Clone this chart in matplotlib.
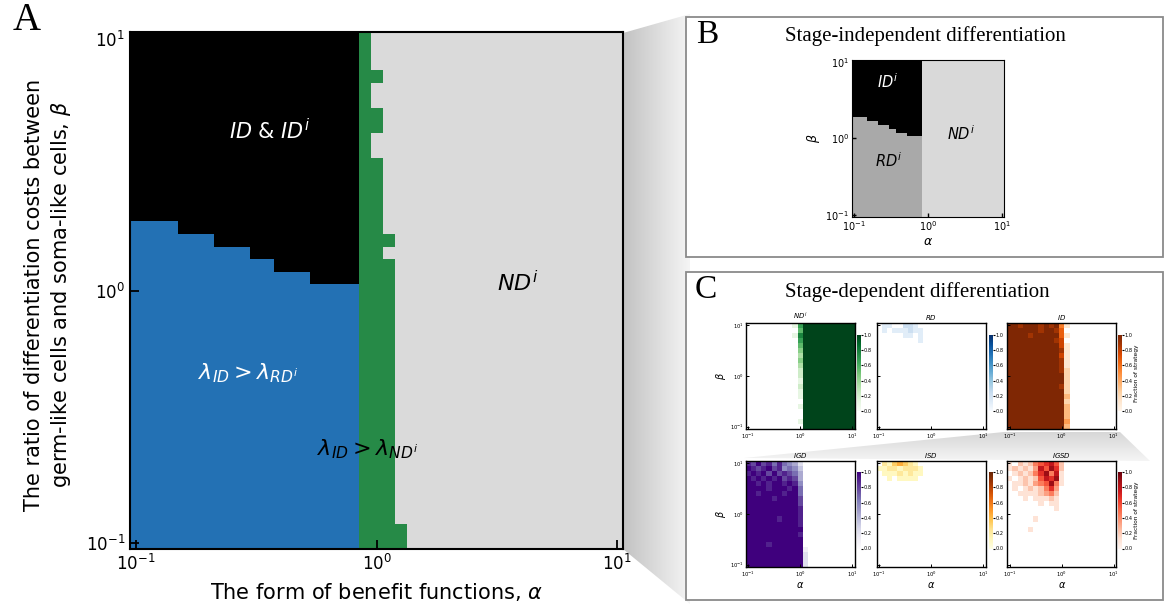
import numpy as np
import matplotlib.pyplot as plt
from matplotlib.colors import ListedColormap
from matplotlib.patches import Polygon, Rectangle

plt.rcParams['mathtext.fontset'] = 'dejavusans'
plt.rcParams['font.family'] = 'DejaVu Sans'

W, H = 1165, 613
SERIF = 'Liberation Serif'

# ---------------- data ----------------
# A/B: 41 x 41 grid, alpha and beta log-spaced 0.1 .. 10 (row 0 = beta 0.1)
n_grid = 41
# number of beta rows (from bottom) where lambda_ID > lambda_RDi, for alpha columns 0..18
rd_rows = [26, 26, 26, 26, 25, 25, 25, 24, 24, 24, 23, 23, 22, 22, 22, 21, 21, 21, 21]
# same boundary in panel B (RD^i / ID^i)
rdi_rows = [26, 26, 26, 26, 25, 25, 25, 24, 24, 24, 23, 23, 22, 22, 22, 21, 21, 21, 21]
# first alpha column of the ND region
nd_col = 19
# width (columns) of the lambda_ID > lambda_NDi band, per beta row from bottom
nd_width = [4, 4, 3, 3, 3, 3, 3, 3, 3, 3, 3, 3, 3, 3, 3, 3, 3, 3, 3, 3, 3, 3, 3,
            2, 3, 2, 2, 2, 2, 2, 2, 1, 1, 2, 2, 1, 1, 2, 1, 1, 1]

# C: fraction of each strategy (digit/9), 21 x 21, first string = beta 10, col 0 = alpha 0.1
frac_ndi = [
    "000000000169999999999",
    "000000000059999999999",
    "000000000179999999999",
    "000000000069999999999",
    "000000000059999999999",
    "000000000049999999999",
    "000000000039999999999",
    "000000000049999999999",
    "000000000039999999999",
    "000000000029999999999",
    "000000000029999999999",
    "000000000019999999999",
    "000000000029999999999",
    "000000000019999999999",
    "000000000019999999999",
    "000000000009999999999",
    "000000000019999999999",
    "000000000009999999999",
    "000000000009999999999",
    "000000000019999999999",
    "000000000009999999999",
]
frac_rd = [
    "011002210000000000000",
    "010111211000000000000",
    "000001101000000000000",
    "000000001000000000000",
    "000000000000000000000",
    "000000000000000000000",
    "000000000000000000000",
    "000000000000000000000",
    "000000000000000000000",
    "000000000000000000000",
    "000000000000000000000",
    "000000000000000000000",
    "000000000000000000000",
    "000000000000000000000",
    "000000000000000000000",
    "000000000000000000000",
    "000000000000000000000",
    "000000000000000000000",
    "000000000000000000000",
    "000000000000000000000",
    "000000000000000000000",
]
frac_id = [
    "998999898951000000000",
    "999999899860000000000",
    "999989999961000000000",
    "999999999870000000000",
    "999999999971000000000",
    "999999999981000000000",
    "999999999971000000000",
    "999999999981000000000",
    "999999999981000000000",
    "999999999982000000000",
    "999999999992000000000",
    "999999999992000000000",
    "999999999982000000000",
    "999999999992000000000",
    "999999999993000000000",
    "999999999992000000000",
    "999999999993000000000",
    "999999999993000000000",
    "999999999993000000000",
    "999999999994000000000",
    "999999999993000000000",
]
frac_igd = [
    "879786865420000000000",
    "987897856530000000000",
    "898979787640000000000",
    "989898978740000000000",
    "998989989850000000000",
    "999989998960000000000",
    "998999989960000000000",
    "999998999970000000000",
    "999999999970000000000",
    "999999999980000000000",
    "999999999980000000000",
    "999999899980000000000",
    "999999999980000000000",
    "999999999990000000000",
    "999999999980000000000",
    "999999999990000000000",
    "999989999990000000000",
    "999999999991000000000",
    "999999999992000000000",
    "999999999992000000000",
    "999999999992000000000",
]
frac_isd = [
    "021343210000000000000",
    "112212221000000000000",
    "011121211000000000000",
    "001011110000000000000",
    "000000000000000000000",
    "000000000000000000000",
    "000000000000000000000",
    "000000000000000000000",
    "000000000000000000000",
    "000000000000000000000",
    "000000000000000000000",
    "000000000000000000000",
    "000000000000000000000",
    "000000000000000000000",
    "000000000000000000000",
    "000000000000000000000",
    "000000000000000000000",
    "000000000000000000000",
    "000000000000000000000",
    "000000000000000000000",
    "000000000000000000000",
]
frac_igsd = [
    "102124567520000000000",
    "121213758620000000000",
    "012124684710000000000",
    "101212576810000000000",
    "011213458410000000000",
    "010121246300000000000",
    "001111234200000000000",
    "000101112100000000000",
    "000000101100000000000",
    "000000000100000000000",
    "000000000000000000000",
    "000001000000000000000",
    "000000000000000000000",
    "000010000000000000000",
    "000000000000000000000",
    "000000000000000000000",
    "000000000000000000000",
    "000000000000000000000",
    "000000000000000000000",
    "000000000000000000000",
    "000000000000000000000",
]

c_titles = [r'$ND^i$', r'$RD$', r'$ID$', r'$IGD$', r'$ISD$', r'$IGSD$']
c_cmaps = ['Greens', 'Blues', 'Oranges', 'Purples', 'YlOrBr', 'Reds']
c_data = [frac_ndi, frac_rd, frac_id, frac_igd, frac_isd, frac_igsd]


def rect(x0, y0, x1, y1):
    # pixel box (top-left, bottom-right) -> figure fraction rect
    return [x0 / W, 1 - y1 / H, (x1 - x0) / W, (y1 - y0) / H]


def to_array(rows):
    a = np.array([[int(ch) for ch in r] for r in rows], dtype=float)[::-1] / 9.0
    # empty cells are shown white
    return np.ma.masked_equal(a, 0)


fig = plt.figure(figsize=(W / 100, H / 100), dpi=100)

# ---------------- background: zoom shading and panel boxes ----------------
ov = fig.add_axes([0, 0, 1, 1])
ov.set_zorder(-1)
ov.axis('off')


def shade(verts, c0, c1, horizontal=True, z=1):
    poly = Polygon(verts, closed=True, facecolor='none', edgecolor='none')
    ov.add_patch(poly)
    xs = [v[0] for v in verts]
    ys = [v[1] for v in verts]
    g = np.linspace(c0, c1, 256)
    arr = g[None, :] if horizontal else g[:, None]
    im = ov.imshow(arr, cmap='gray', vmin=0, vmax=1, aspect='auto', zorder=z,
                   extent=(min(xs), max(xs), max(ys), min(ys)))
    im.set_clip_path(poly)


shade([(623, 33), (690, 14), (690, 604), (623, 549)], 0.76, 0.96)
ov.add_patch(Rectangle((686, 17), 477, 240, facecolor='white', edgecolor='#8a8a8a', lw=1.3, zorder=2))
ov.add_patch(Rectangle((686, 272), 477, 328, facecolor='white', edgecolor='#8a8a8a', lw=1.3, zorder=2))
shade([(1004, 432), (1120, 432), (1150, 461), (744, 458)], 0.84, 0.96, horizontal=False, z=3)
ov.set_xlim(0, W)
ov.set_ylim(H, 0)

# ---------------- panel A ----------------
edges = np.logspace(-1.025, 1.025, n_grid + 1)
grid_a = np.zeros((n_grid, n_grid))
for c in range(nd_col):
    grid_a[:, c] = 1
    grid_a[:rd_rows[c], c] = 2
for r in range(n_grid):
    grid_a[r, nd_col:nd_col + nd_width[r]] = 3

cmap_a = ListedColormap(['#dadada', '#000000', '#2371b4', '#268a47'])
axA = fig.add_axes(rect(130, 32.3, 623.3, 549))
axA.pcolormesh(edges, edges, grid_a, cmap=cmap_a, vmin=-0.5, vmax=3.5)
axA.set_xscale('log')
axA.set_yscale('log')
axA.set_xlim(edges[0], edges[-1])
axA.set_ylim(edges[0], edges[-1])
axA.minorticks_off()
axA.tick_params(direction='in', length=6.5, width=1.3, labelsize=12, zorder=5)
for s in axA.spines.values():
    s.set_linewidth(1.5)
axA.set_xlabel(r'The form of benefit functions, $\alpha$', fontsize=15, labelpad=5)

fig.text(48.5 / W, 1 - 295 / H,
         'The ratio of differentiation costs between\ngerm-like cells and soma-like cells, ' + r'$\beta$',
         rotation=90, ha='center', va='center', fontsize=15, linespacing=1.25)

fig.text(270 / W, 1 - 131 / H, r'$ID$ & $ID^i$', color='white', fontsize=15, ha='center', va='center')
fig.text(518 / W, 1 - 283 / H, r'$ND^i$', color='black', fontsize=16, ha='center', va='center')
fig.text(248 / W, 1 - 373 / H, r'$\lambda_{ID} > \lambda_{RD^i}$', color='white', fontsize=16,
         ha='center', va='center')
fig.text(368 / W, 1 - 449 / H, r'$\lambda_{ID} > \lambda_{ND^i}$', color='black', fontsize=16,
         ha='center', va='center')
fig.text(26.5 / W, 1 - 20 / H, 'A', family=SERIF, fontsize=28, ha='center', va='center')

# ---------------- panel B ----------------
grid_b = np.zeros((n_grid, n_grid))
for c in range(nd_col):
    grid_b[:, c] = 1
    grid_b[:rdi_rows[c], c] = 2
cmap_b = ListedColormap(['#d9d9d9', '#000000', '#a9a9a9'])
axB = fig.add_axes(rect(851.7, 60, 1004, 216.7))
axB.pcolormesh(edges, edges, grid_b, cmap=cmap_b, vmin=-0.5, vmax=2.5)
axB.set_xscale('log')
axB.set_yscale('log')
axB.set_xlim(edges[0], edges[-1])
axB.set_ylim(edges[0], edges[-1])
axB.minorticks_off()
axB.tick_params(direction='in', length=3, width=1, labelsize=7, pad=2)
axB.set_xlabel(r'$\alpha$', fontsize=9, labelpad=1)
axB.set_ylabel(r'$\beta$', fontsize=9, labelpad=2)
axB.text(0.24, 0.86, r'$ID^i$', color='white', fontsize=10.5, ha='center', va='center', transform=axB.transAxes)
axB.text(0.24, 0.36, r'$RD^i$', color='black', fontsize=10.5, ha='center', va='center', transform=axB.transAxes)
axB.text(0.72, 0.53, r'$ND^i$', color='black', fontsize=10.5, ha='center', va='center', transform=axB.transAxes)
fig.text(706.7 / W, 1 - 35 / H, 'B', family=SERIF, fontsize=24, ha='center', va='center')
fig.text(925.7 / W, 1 - 36 / H, 'Stage-independent differentiation', family=SERIF, fontsize=15,
         ha='center', va='center')

# ---------------- panel C ----------------
fig.text(705.8 / W, 1 - 290 / H, 'C', family=SERIF, fontsize=24, ha='center', va='center')
fig.text(917 / W, 1 - 292 / H, 'Stage-dependent differentiation', family=SERIF, fontsize=15,
         ha='center', va='center')

edges_c = np.logspace(-1.05, 1.05, 22)
col_x = [745.7, 876.7, 1007.3]
row_y = [322.7, 460.7]
cb_x = [857.3, 989.3, 1118.3]
cb_y = [(335, 411), (472, 548.5)]
for k in range(6):
    i, j = divmod(k, 3)
    x0, y0 = col_x[j], row_y[i]
    ax = fig.add_axes(rect(x0, y0, x0 + 109, y0 + 106.5))
    im = ax.pcolormesh(edges_c, edges_c, to_array(c_data[k]), cmap=c_cmaps[k], vmin=0, vmax=1)
    ax.set_xscale('log')
    ax.set_yscale('log')
    ax.set_xlim(edges_c[0], edges_c[-1])
    ax.set_ylim(edges_c[0], edges_c[-1])
    ax.minorticks_off()
    ax.tick_params(direction='in', length=2, width=0.7, labelsize=3.8, pad=1.5)
    for s in ax.spines.values():
        s.set_linewidth(1.0)
    ax.set_title(c_titles[k], fontsize=5, pad=2)
    if j > 0:
        ax.set_yticklabels([])
    else:
        ax.set_ylabel(r'$\beta$', fontsize=7, labelpad=1)
    if i == 1:
        ax.set_xlabel(r'$\alpha$', fontsize=7, labelpad=1)
    cax = fig.add_axes(rect(cb_x[j], cb_y[i][0], cb_x[j] + 3.5, cb_y[i][1]))
    cb = fig.colorbar(im, cax=cax)
    cb.set_ticks([0.0, 0.2, 0.4, 0.6, 0.8, 1.0])
    cb.ax.tick_params(labelsize=3.6, length=1.2, width=0.8, pad=1)
    cb.outline.set_linewidth(0)
    if j == 2:
        cb.set_label('Fraction of strategy', fontsize=4.2, labelpad=1)

fig.savefig('out.png', dpi=100)
